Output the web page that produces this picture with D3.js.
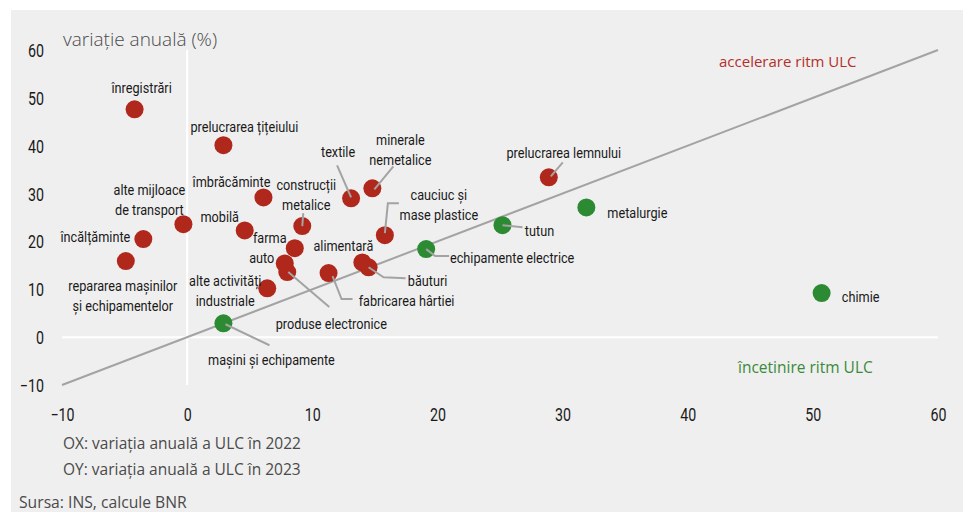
<!DOCTYPE html>
<html>
<head>
<meta charset="utf-8">
<script src="https://cdn.jsdelivr.net/npm/d3@7/dist/d3.min.js"></script>
<style>
  html, body { margin: 0; padding: 0; background: #ffffff; }
  svg { display: block; }
  .tick-lbl { font-family: Roboto, "Noto Sans", sans-serif; font-size: 18px; fill: #1a1a1a; }
  .pt-lbl { font-family: Roboto, "Noto Sans", sans-serif; font-size: 15.5px; fill: #1a1a1a; }
  .note { font-family: "Open Sans", "Noto Sans", sans-serif; fill: #4a4a4a; }
</style>
</head>
<body>
<svg id="chart" width="963" height="512"></svg>
<script>
// Sectors of manufacturing: annual change of unit labour cost (ULC)
const sectors = [
  "înregistrări", "prelucrarea țițeiului", "îmbrăcăminte", "construcții metalice",
  "textile", "minerale nemetalice", "cauciuc și mase plastice", "alte mijloace de transport",
  "încălțăminte", "repararea mașinilor și echipamentelor", "mobilă", "farma",
  "auto", "produse electronice", "alte activități industriale", "fabricarea hârtiei",
  "alimentară", "băuturi", "echipamente electrice", "tutun",
  "metalurgie", "prelucrarea lemnului", "chimie", "mașini și echipamente"
];
// OX: annual change of ULC in 2022
const ulc2022 = [
  -4.2, 2.9, 6.1, 9.2,
  13.1, 14.8, 15.8, -0.3,
  -3.5, -4.9, 4.6, 8.6,
  7.8, 8.0, 6.4, 11.3,
  14.0, 14.5, 19.1, 25.2,
  31.9, 28.9, 50.7, 2.9
];
// OY: annual change of ULC in 2023
const ulc2023 = [
  47.6, 40.1, 29.2, 23.2,
  29.0, 31.1, 21.3, 23.6,
  20.5, 15.9, 22.3, 18.6,
  15.4, 13.6, 10.2, 13.4,
  15.6, 14.6, 18.4, 23.4,
  27.1, 33.4, 9.2, 2.9
];
const xTicks = [-10, 0, 10, 20, 30, 40, 50, 60];
const yTicks = [-10, 0, 10, 20, 30, 40, 50, 60];

// Label placement (pixel offsets from the dot) and optional leader polylines
const labelLayout = {
  "înregistrări": { dx: 7, dy: -22, lines: ["înregistrări"] },
  "prelucrarea țițeiului": { dx: 21, dy: -19, lines: ["prelucrarea țițeiului"] },
  "îmbrăcăminte": { dx: -32, dy: -16, lines: ["îmbrăcăminte"] },
  "construcții metalice": { dx: 4, dy: -32, lines: ["construcții", "metalice"], leader: [[0, 0], [1, -13]] },
  "textile": { dx: -13, dy: -47, lines: ["textile"], leader: [[0, -1], [-14, -33]] },
  "minerale nemetalice": { dx: 28, dy: -39, lines: ["minerale", "nemetalice"], leader: [[2, 1], [21, -22]] },
  "cauciuc și mase plastice": { dx: 54, dy: -31, lines: ["cauciuc și", "mase plastice"], leader: [[0, -2], [3, -32], [14, -32]] },
  "alte mijloace de transport": { dx: -34, dy: -25, lines: ["alte mijloace", "de transport"] },
  "încălțăminte": { dx: -48, dy: -2, lines: ["încălțăminte"] },
  "repararea mașinilor și echipamentelor": { dx: -3, dy: 35, lines: ["repararea mașinilor", "și echipamentelor"] },
  "mobilă": { dx: -25, dy: -14, lines: ["mobilă"] },
  "farma": { dx: -25, dy: -11, lines: ["farma"] },
  "auto": { dx: -23, dy: -6, lines: ["auto"] },
  "produse electronice": { dx: 44, dy: 52, lines: ["produse electronice"], leader: [[1, 0], [42, 35]] },
  "alte activități industriale": { dx: -42, dy: 2, lines: ["alte activități", "industriale"] },
  "fabricarea hârtiei": { dx: 78, dy: 28, lines: ["fabricarea hârtiei"], leader: [[4, 3], [13, 26], [24, 26]] },
  "alimentară": { dx: -19, dy: -17, lines: ["alimentară"] },
  "băuturi": { dx: 59, dy: 13, lines: ["băuturi"], leader: [[0, 0], [15, 10], [37, 11]] },
  "echipamente electrice": { dx: 86, dy: 8, lines: ["echipamente electrice"], leader: [[0, 0], [9, 7], [23, 7]] },
  "tutun": { dx: 37, dy: 5, lines: ["tutun"], leader: [[0, 0], [20, 2]] },
  "metalurgie": { dx: 51, dy: 5, lines: ["metalurgie"] },
  "prelucrarea lemnului": { dx: 15, dy: -25, lines: ["prelucrarea lemnului"], leader: [[2, -1], [14, -15]] },
  "chimie": { dx: 39, dy: 3, lines: ["chimie"] },
  "mașini și echipamente": { dx: 48, dy: 36, lines: ["mașini și echipamente"], leader: [[2, 1], [46, 22]] }
};

const svg = d3.select("#chart");
const W = 963, H = 512;

// horizontal condensing factor for a narrow typeface look
function condenseFactor(cls, sample, target) {
  const t = svg.append("text").attr("class", cls).text(sample);
  const w = t.node().getComputedTextLength();
  t.remove();
  return w > 0 ? target / w : 0.8;
}
const sxLabel = condenseFactor("pt-lbl", "prelucrarea țițeiului", 108);
const sxTick = condenseFactor("tick-lbl", "60", 16);

// panel background
svg.append("rect").attr("x", 11).attr("y", 10).attr("width", W - 11).attr("height", H - 10).attr("fill", "#efefef");

const x = d3.scaleLinear().domain([-10, 60]).range([62, 938]);
const y = d3.scaleLinear().domain([-10, 60]).range([385, 50]);

// zero reference lines
svg.append("line").attr("x1", x(-10)).attr("x2", x(60)).attr("y1", y(0)).attr("y2", y(0))
  .attr("stroke", "#ffffff").attr("stroke-width", 2);
svg.append("line").attr("x1", x(0)).attr("x2", x(0)).attr("y1", y(60)).attr("y2", y(-10))
  .attr("stroke", "#ffffff").attr("stroke-width", 2);

// y = x line separating acceleration from deceleration
svg.append("line").attr("x1", x(-10)).attr("y1", y(-10)).attr("x2", x(60)).attr("y2", y(60))
  .attr("stroke", "#a3a3a3").attr("stroke-width", 2);

// axes
const xAxis = d3.axisBottom(x).tickValues(xTicks).tickSize(0).tickPadding(0);
const gx = svg.append("g").attr("transform", "translate(0,421)").call(xAxis);
gx.select(".domain").remove();
gx.selectAll("text").attr("class", "tick-lbl").attr("dy", 0).attr("y", 0).attr("fill", null)
  .attr("transform", `scale(${sxTick},1)`);

const yAxis = d3.axisLeft(y).tickValues(yTicks).tickSize(0).tickPadding(0);
const gy = svg.append("g").attr("transform", "translate(44,0)").call(yAxis);
gy.select(".domain").remove();
gy.selectAll("text").attr("class", "tick-lbl").attr("x", 0).attr("dy", "0.36em").attr("fill", null)
  .attr("transform", `scale(${sxTick},1)`);

// titles and notes
svg.append("text").attr("class", "note").attr("x", 63).attr("y", 46).attr("font-size", 19).attr("font-weight", 300)
  .text("variație anuală (%)");
svg.append("text").attr("class", "note").attr("x", 63).attr("y", 449).attr("font-size", 15.5).text("OX: variația anuală a ULC în 2022");
svg.append("text").attr("class", "note").attr("x", 63).attr("y", 475).attr("font-size", 15.5).text("OY: variația anuală a ULC în 2023");
svg.append("text").attr("class", "note").attr("x", 19).attr("y", 508).attr("font-size", 15.7).text("Sursa: INS, calcule BNR");

svg.append("text").attr("x", 719).attr("y", 67).attr("font-family", "'Open Sans', 'Noto Sans', sans-serif")
  .attr("font-size", 15).attr("fill", "#b3302a").text("accelerare ritm ULC");
svg.append("text").attr("x", 738).attr("y", 373).attr("font-family", "'Open Sans', 'Noto Sans', sans-serif")
  .attr("font-size", 15.5).attr("fill", "#3a8a3a").text("încetinire ritm ULC");

const data = sectors.map((s, i) => ({ name: s, x: ulc2022[i], y: ulc2023[i] }));
const colorOf = d => (d.y > d.x ? "#b0281c" : "#2b8a32");

// dots
svg.append("g").selectAll("circle").data(data).join("circle")
  .attr("cx", d => x(d.x)).attr("cy", d => y(d.y)).attr("r", 9)
  .attr("fill", colorOf);

// leader lines (drawn over the dots, starting near their centres)
data.forEach(d => {
  const L = labelLayout[d.name];
  if (!L || !L.leader) return;
  const cx = x(d.x), cy = y(d.y);
  svg.append("path")
    .attr("d", d3.line()(L.leader.map(p => [cx + p[0], cy + p[1]])))
    .attr("fill", "none").attr("stroke", "#a3a3a3").attr("stroke-width", 2);
});

// labels
const lg = svg.append("g");
data.forEach(d => {
  const L = labelLayout[d.name];
  const cx = x(d.x) + L.dx, cy = y(d.y) + L.dy;
  const n = L.lines.length;
  L.lines.forEach((t, k) => {
    lg.append("text").attr("class", "pt-lbl")
      .attr("transform", `translate(${cx},${cy + (k - (n - 1) / 2) * 20}) scale(${sxLabel},1)`)
      .attr("dy", "0.35em").attr("text-anchor", "middle").text(t);
  });
});
</script>
</body>
</html>
